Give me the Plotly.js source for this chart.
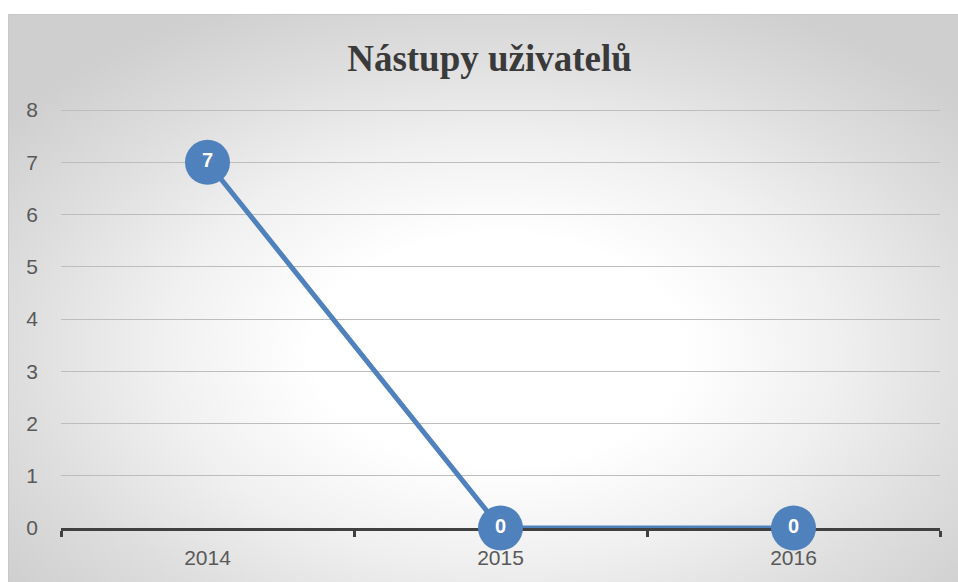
<!DOCTYPE html>
<html>
<head>
<meta charset="utf-8">
<script src="https://cdn.plot.ly/plotly-3.0.1.min.js"></script>
<style>
  html, body { margin: 0; padding: 0; background: #ffffff; }
  #wrap { position: relative; width: 958px; height: 582px; overflow: hidden; }
  #bg {
    position: absolute; left: 8px; top: 14px; width: 960px; height: 580px;
    box-sizing: border-box; border: 1px solid #c8c8c8;
    background: radial-gradient(ellipse 64% 66% at 51% 58%, #ffffff 0%, #ffffff 30%, #f0f0f0 55%, #dedede 78%, #cfcfcf 100%);
  }
  #chart { position: absolute; left: 0; top: 0; width: 958px; height: 582px; }
</style>
</head>
<body>
<div id="wrap">
  <div id="bg"></div>
  <div id="chart"></div>
</div>
<script>
const categories = ["2014", "2015", "2016"];
const values = [7, 0, 0];
const yTicks = [0, 1, 2, 3, 4, 5, 6, 7, 8];
const titleText = "Nástupy uživatelů";

const trace = {
  x: categories,
  y: values,
  type: "scatter",
  mode: "lines+markers+text",
  text: values.map(String),
  textposition: "middle center",
  textfont: { family: "Liberation Sans, Arial, sans-serif", size: 20, color: "#ffffff", weight: "bold" },
  line: { color: "#4f81bd", width: 5 },
  marker: { color: "#4f81bd", size: 45 },
  cliponaxis: false,
  hoverinfo: "none"
};

const layout = {
  width: 958, height: 582,
  margin: { l: 61, r: 18, t: 109, b: 54 },
  paper_bgcolor: "rgba(0,0,0,0)",
  plot_bgcolor: "rgba(0,0,0,0)",
  showlegend: false,
  title: {
    text: "<b>" + titleText + "</b>",
    font: { family: "Liberation Serif, Times New Roman, serif", size: 37, color: "#3a3a3a" },
    x: 0.511, xanchor: "center", y: 0.9, yanchor: "middle", yref: "container"
  },
  xaxis: {
    type: "category",
    range: [-0.5, 2.5],
    tickson: "boundaries",
    ticks: "outside", ticklen: 6, tickwidth: 3, tickcolor: "#404040",
    showline: true, linewidth: 3, linecolor: "#404040",
    showgrid: false, zeroline: false,
    ticklabelstandoff: 9,
    tickfont: { family: "Liberation Sans, Arial, sans-serif", size: 21, color: "#595959" },
    layer: "below traces",
    fixedrange: true
  },
  yaxis: {
    range: [0, 8.02],
    tickvals: yTicks,
    ticktext: yTicks.map(String),
    showgrid: true, gridcolor: "#bdbdbd", gridwidth: 1,
    zeroline: false, showline: false, ticks: "",
    ticklabelstandoff: 22,
    tickfont: { family: "Liberation Sans, Arial, sans-serif", size: 21, color: "#595959" },
    layer: "below traces",
    fixedrange: true
  }
};

Plotly.newPlot("chart", [trace], layout, { displayModeBar: false, staticPlot: true });
</script>
</body>
</html>
